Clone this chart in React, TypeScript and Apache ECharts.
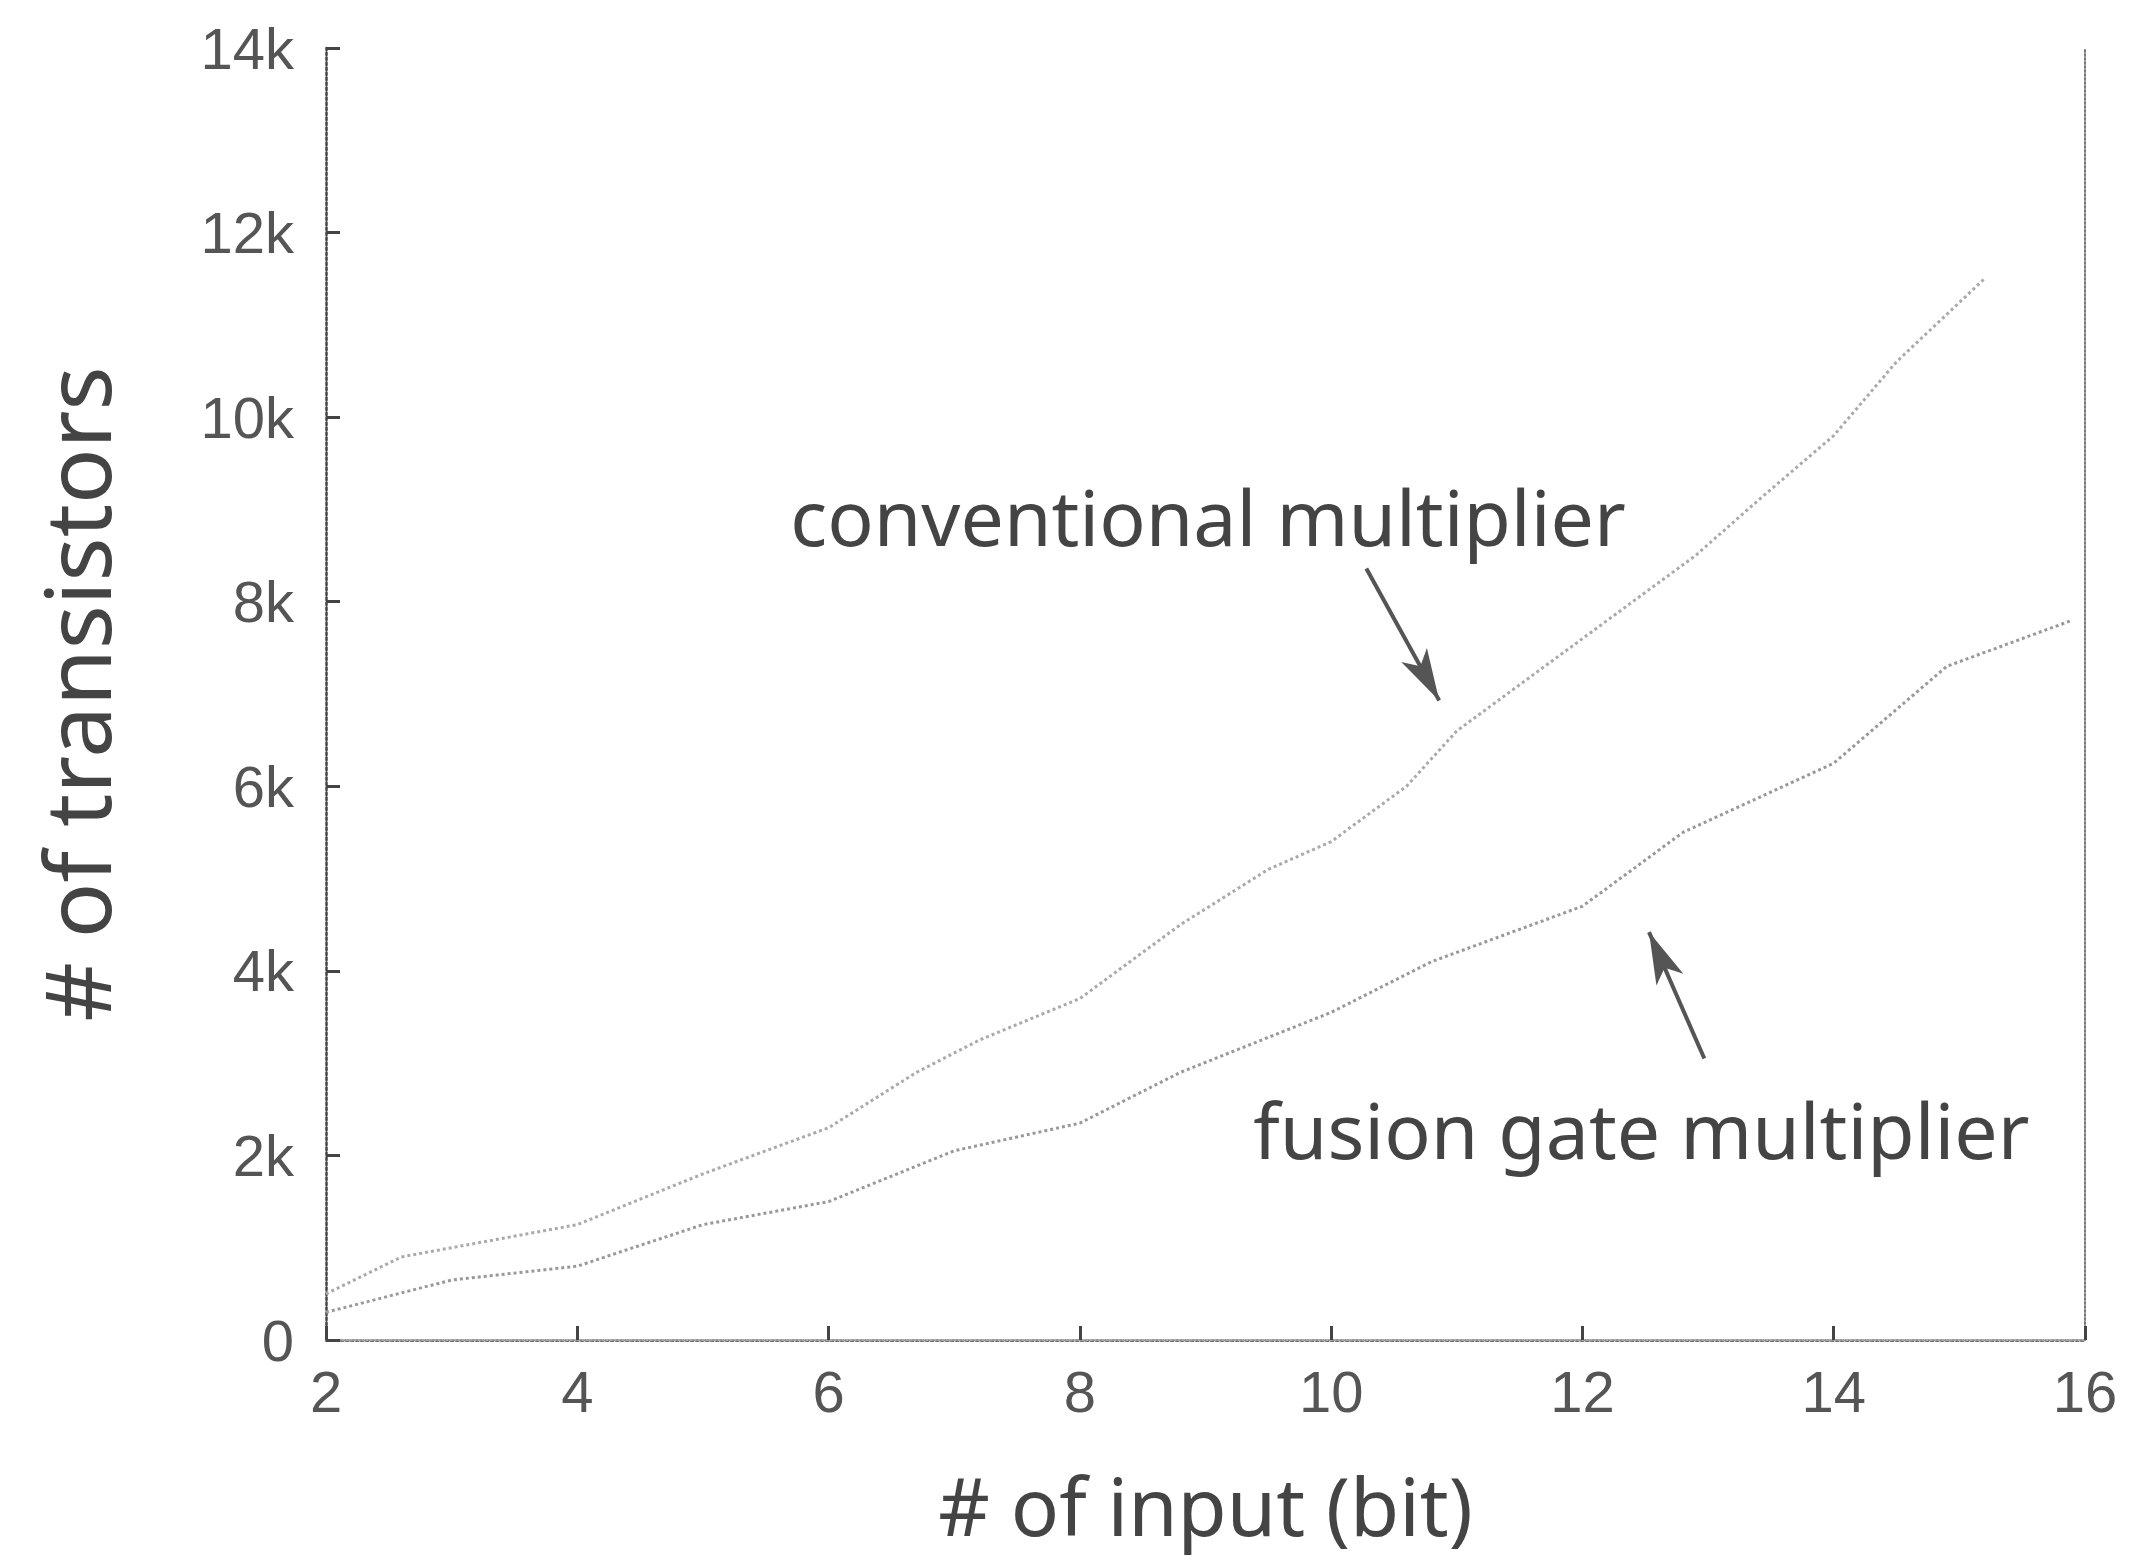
import React, { useEffect, useRef } from 'react';
import * as echarts from 'echarts';

const convBits = [2, 2.6, 3, 4, 5, 6, 6.7, 7.2, 8, 8.8, 9.5, 10, 10.6, 11, 12, 12.9, 13.4, 14, 14.5, 15.2];
const convValues = [500, 900, 1000, 1250, 1800, 2300, 2900, 3250, 3700, 4500, 5100, 5400, 6000, 6600, 7600, 8500, 9100, 9800, 10600, 11500];
const fusionBits = [2, 3, 4, 5, 6, 7, 8, 8.8, 10, 10.8, 12, 12.8, 14, 14.9, 15.9];
const fusionValues = [300, 650, 800, 1250, 1500, 2050, 2350, 2900, 3550, 4100, 4700, 5500, 6250, 7300, 7800];

const xTicks = [2, 4, 6, 8, 10, 12, 14, 16];
const yTickLabels = ['0', '2k', '4k', '6k', '8k', '10k', '12k', '14k'];

const convLabel = 'conventional multiplier';
const fusionLabel = 'fusion gate multiplier';
const convLabelPos = [9.02, 8920];
const fusionLabelPos = [12.47, 2280];
const convArrow = [[10.28, 8360], [10.86, 6930]];
const fusionArrow = [[12.97, 3050], [12.53, 4420]];

export default function App() {
  const ref = useRef<HTMLDivElement>(null);
  useEffect(() => {
    document.body.style.margin = '0';
    const chart = echarts.init(ref.current!, null, { renderer: 'svg' });
    const tickFont = { fontFamily: 'Liberation Sans', fontSize: 58, color: '#555' };
    const option: any = {
      animation: false,
      backgroundColor: '#fff',
      grid: { left: 326, right: 48, top: 48, bottom: 226, containLabel: false, outerBoundsMode: 'none' },
      xAxis: [
        {
          type: 'value',
          min: xTicks[0],
          max: xTicks[xTicks.length - 1],
          interval: 2,
          name: '# of input (bit)',
          nameLocation: 'middle',
          nameGap: 124,
          nameMoveOverlap: false,
          nameTextStyle: { fontFamily: 'Noto Sans', fontSize: 80, lineHeight: 80, color: '#444', verticalAlign: 'top' },
          axisLine: { show: true, onZero: false, lineStyle: { color: '#444', width: 2.5, type: 'dotted' } },
          axisTick: { show: true, inside: true, length: 14, lineStyle: { color: '#444', width: 3 } },
          axisLabel: { ...tickFont, margin: 22 },
          splitLine: { show: false },
        },
        {
          type: 'value',
          position: 'top',
          min: xTicks[0],
          max: xTicks[xTicks.length - 1],
          axisLine: { show: true, lineStyle: { color: '#aaa', width: 2, type: 'dotted' } },
          axisTick: { show: false },
          axisLabel: { show: false },
          splitLine: { show: false },
        },
      ],
      yAxis: [
        {
          type: 'value',
          min: 0,
          max: 14000,
          interval: 2000,
          name: '# of transistors',
          nameLocation: 'middle',
          nameGap: 205,
          nameMoveOverlap: false,
          nameTextStyle: { fontFamily: 'Noto Sans', fontSize: 92, color: '#444' },
          axisLine: { show: true, onZero: false, lineStyle: { color: '#444', width: 2.5, type: 'dotted' } },
          axisTick: { show: true, inside: true, length: 14, lineStyle: { color: '#444', width: 3 } },
          axisLabel: {
            ...tickFont,
            margin: 32,
            formatter: (v: number) => yTickLabels[Math.round(v / 2000)] ?? '',
          },
          splitLine: { show: false },
        },
        {
          type: 'value',
          position: 'right',
          min: 0,
          max: 14000,
          axisLine: { show: true, lineStyle: { color: '#777', width: 2, type: 'dotted' } },
          axisTick: { show: false },
          axisLabel: { show: false },
          splitLine: { show: false },
        },
      ],
      series: [
        {
          name: convLabel,
          type: 'line',
          xAxisIndex: 0,
          yAxisIndex: 0,
          data: convBits.map((b, i) => [b, convValues[i]]),
          showSymbol: false,
          lineStyle: { color: '#aaa', width: 3, type: 'dotted' },
        },
        {
          name: fusionLabel,
          type: 'line',
          xAxisIndex: 0,
          yAxisIndex: 0,
          data: fusionBits.map((b, i) => [b, fusionValues[i]]),
          showSymbol: false,
          lineStyle: { color: '#999', width: 3, type: 'dotted' },
          markLine: {
            silent: true,
            symbol: ['none', 'arrow'],
            symbolSize: [22, 52],
            label: { show: false },
            lineStyle: { color: '#555', width: 4, type: 'solid' },
            data: [
              [{ coord: convArrow[0] }, { coord: convArrow[1] }],
              [{ coord: fusionArrow[0] }, { coord: fusionArrow[1] }],
            ],
          },
        },
      ],
    };
    chart.setOption(option);
    const finder = { xAxisIndex: 0, yAxisIndex: 0 };
    const c = chart.convertToPixel(finder, convLabelPos) as number[];
    const f = chart.convertToPixel(finder, fusionLabelPos) as number[];
    const textStyle = {
      fontFamily: 'Noto Sans',
      fontSize: 77,
      fill: '#444',
      textAlign: 'center',
      textVerticalAlign: 'middle',
    };
    chart.setOption({
      graphic: [
        { type: 'text', x: c[0], y: c[1], style: { ...textStyle, text: convLabel } },
        { type: 'text', x: f[0], y: f[1], style: { ...textStyle, text: fusionLabel } },
      ],
    });
    return () => chart.dispose();
  }, []);
  return (
    <div
      ref={ref}
      style={{ position: 'absolute', left: 0, top: 0, width: 2133, height: 1566, background: '#fff' }}
    />
  );
}
